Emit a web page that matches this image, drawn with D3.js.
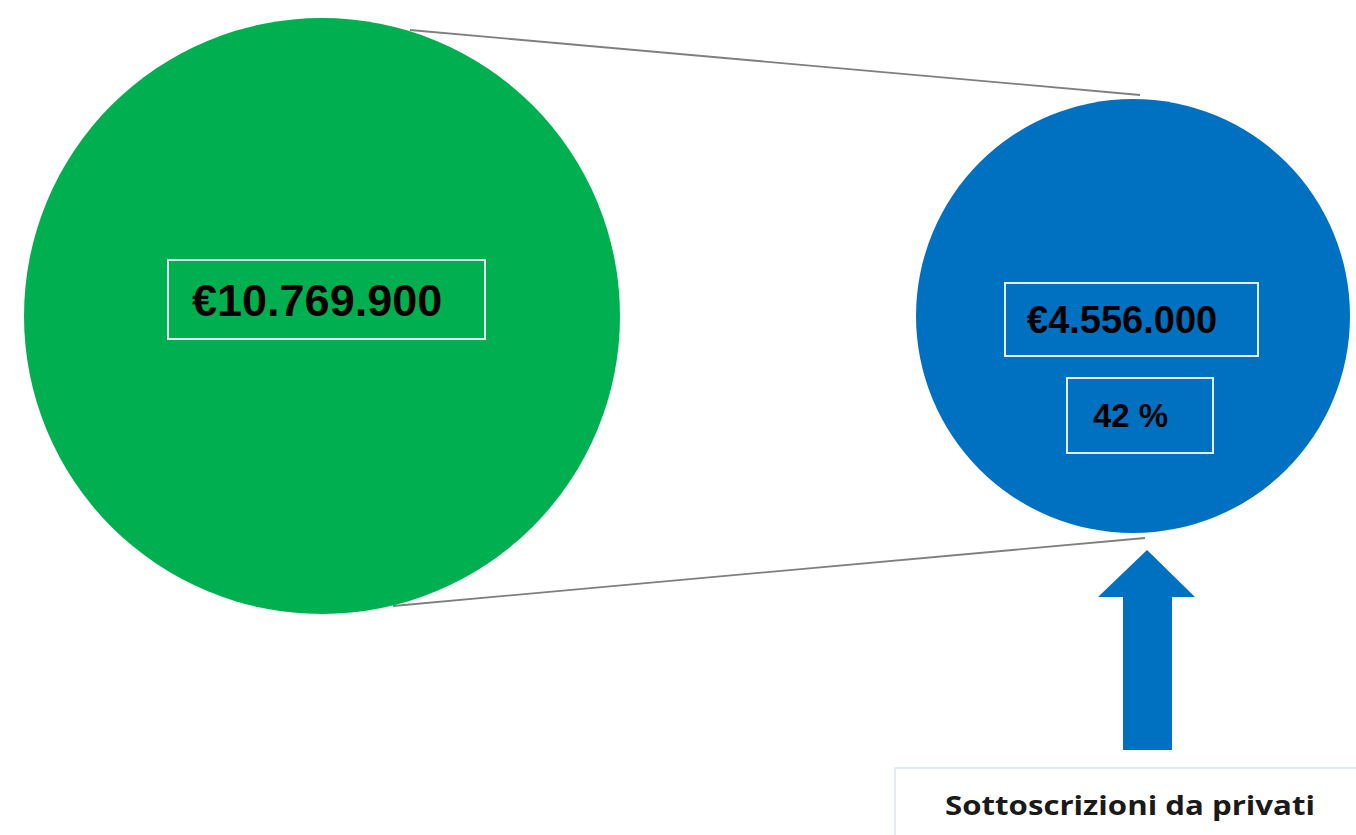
<!DOCTYPE html>
<html>
<head>
<meta charset="utf-8">
<script src="https://cdn.jsdelivr.net/npm/d3@7"></script>
<style>
  body { margin: 0; background: #fff; }
  svg { display: block; }
</style>
</head>
<body>
<svg id="chart" width="1356" height="835"></svg>
<script>
var names = ['Totale', 'Sottoscrizioni da privati']
var values = [10769900, 4556000]
var shares = [null, '42 %']
var colors = ['#00b050', '#0070c0']
var valueLabels = ['€10.769.900', '€4.556.000']

var svg = d3.select('#chart')

var x = d3.scalePoint().domain(names).range([322, 1133])
var r = d3.scaleLinear().domain([values[1], values[0]]).range([217, 298])
var cy = 316

// connector lines between the two circles
var conn = [
  [[410, 30], [1140, 95]],
  [[393, 606], [1145, 538]]
]
svg.selectAll('.conn')
    .data(conn)
  .enter().append('line')
    .attr('class', 'conn')
    .attr('x1', d => d[0][0])
    .attr('y1', d => d[0][1])
    .attr('x2', d => d[1][0])
    .attr('y2', d => d[1][1])
    .attr('stroke', '#7f7f7f')
    .attr('stroke-width', 1.8)

svg.selectAll('.bubble')
    .data(values)
  .enter().append('circle')
    .attr('class', 'bubble')
    .attr('cx', (d, i) => x(names[i]))
    .attr('cy', cy)
    .attr('r', d => r(d))
    .attr('fill', (d, i) => colors[i])

// value boxes
var boxes = [
  {x: 168, y: 260, w: 317, h: 79, text: valueLabels[0], size: 45, tx: 192},
  {x: 1005, y: 283, w: 253, h: 73, text: valueLabels[1], size: 38, tx: 1027},
  {x: 1067, y: 378, w: 146, h: 75, text: shares[1], size: 33, tx: 1093}
]
var g = svg.selectAll('.box')
    .data(boxes)
  .enter().append('g')
    .attr('class', 'box')
g.append('rect')
    .attr('x', d => d.x)
    .attr('y', d => d.y)
    .attr('width', d => d.w)
    .attr('height', d => d.h)
    .attr('fill', 'none')
    .attr('stroke', '#e4ecf2')
    .attr('stroke-width', 2)
g.append('text')
    .attr('x', d => d.tx)
    .attr('y', d => d.y + d.h / 2)
    .attr('dy', '0.36em')
    .attr('font-family', 'Liberation Sans, Arial, sans-serif')
    .attr('font-weight', 'bold')
    .attr('font-size', d => d.size)
    .attr('fill', '#000')
    .text(d => d.text)

// arrow pointing at the blue circle
var ax = 1147
svg.append('path')
    .attr('d', 'M' + ax + ',550 L' + (ax + 48) + ',597 L' + (ax + 25) + ',597 L' + (ax + 25) + ',750 L' +
      (ax - 24) + ',750 L' + (ax - 24) + ',597 L' + (ax - 49) + ',597 Z')
    .attr('fill', colors[1])

svg.append('rect')
    .attr('x', 895)
    .attr('y', 768)
    .attr('width', 480)
    .attr('height', 100)
    .attr('fill', '#fff')
    .attr('stroke', '#dce4ef')
    .attr('stroke-width', 1.5)

svg.append('text')
    .attr('x', 1130)
    .attr('y', 815)
    .attr('text-anchor', 'middle')
    .attr('font-family', 'Open Sans, sans-serif')
    .attr('font-weight', 'bold')
    .attr('font-size', 27)
    .attr('textLength', 370)
    .attr('lengthAdjust', 'spacingAndGlyphs')
    .attr('fill', '#1a1a1a')
    .text(names[1])
</script>
</body>
</html>
